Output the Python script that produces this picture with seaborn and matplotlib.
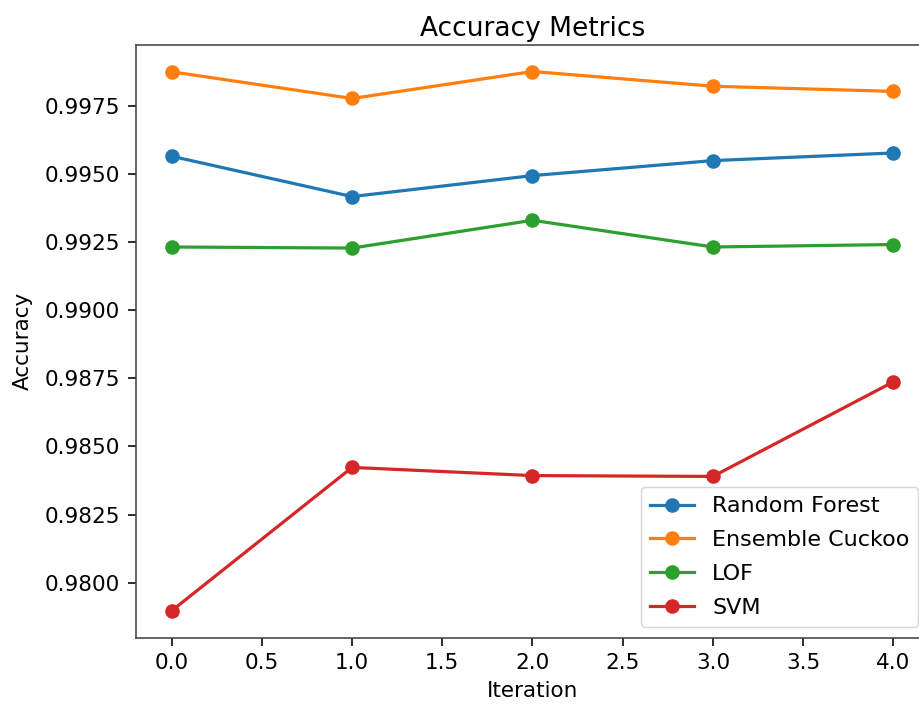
import matplotlib
matplotlib.use("Agg")
import matplotlib.pyplot as plt
import seaborn as sns
import pandas as pd

iterations = [0, 1, 2, 3, 4]
random_forest = [0.99565, 0.99417, 0.99494, 0.99549, 0.99577]
ensemble_cuckoo = [0.99875, 0.99777, 0.99876, 0.99822, 0.99803]
lof = [0.99232, 0.99228, 0.99330, 0.99232, 0.99241]
svm = [0.97897, 0.98423, 0.98393, 0.98390, 0.98737]

series_names = ["Random Forest", "Ensemble Cuckoo", "LOF", "SVM"]
series_values = [random_forest, ensemble_cuckoo, lof, svm]
colors = ["#1f77b4", "#ff7f0e", "#2ca02c", "#d62728"]

plt.rcParams["font.family"] = ["DejaVu Sans"]
scale = 1.44

fig, ax = plt.subplots(figsize=(9.2, 7.07), dpi=100)
fig.subplots_adjust(left=0.1474, right=1.0102, top=0.937, bottom=0.098)

for name, vals, col in zip(series_names, series_values, colors):
    df = pd.DataFrame({"Iteration": iterations, "Accuracy": vals})
    sns.lineplot(data=df, x="Iteration", y="Accuracy", ax=ax, label=name,
                 color=col, marker="o", markersize=10.5,
                 markeredgewidth=0, linewidth=1.6 * scale)

ax.set_title("Accuracy Metrics", fontsize=19)
ax.set_xlabel("Iteration", fontsize=15.5, labelpad=6)
ax.set_ylabel("Accuracy", fontsize=15.5, labelpad=9)
ax.tick_params(labelsize=15.5, width=0.8 * scale, length=6, pad=5)
for sp in ax.spines.values():
    sp.set_linewidth(0.8 * scale)
    sp.set_color("#444444")
ax.legend(loc="lower right", fontsize=16, labelspacing=0.62)

fig.savefig("out.png", dpi=100)
